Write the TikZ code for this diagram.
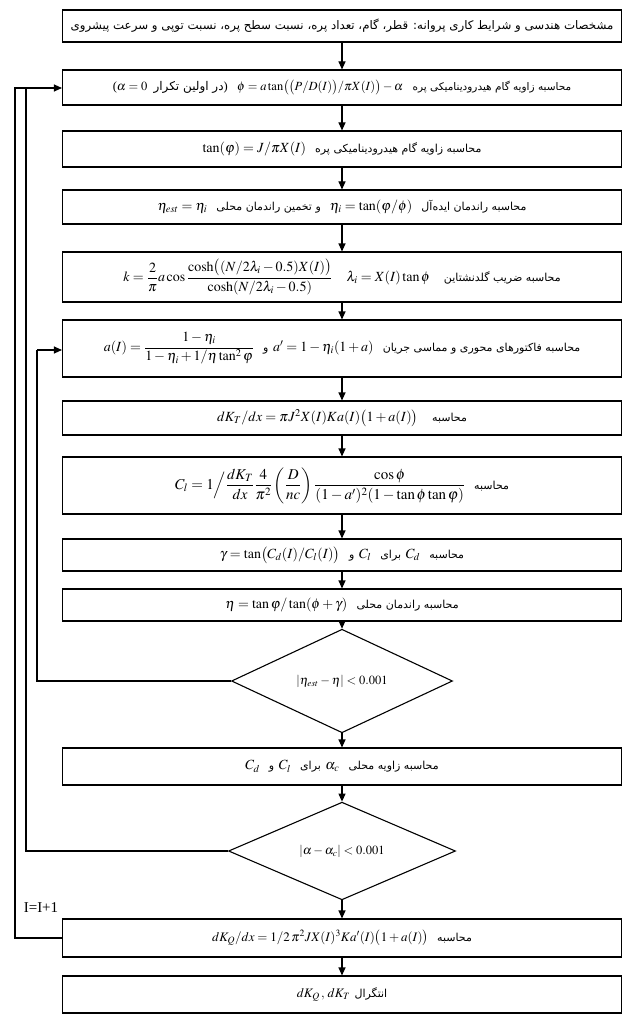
\documentclass[tikz,border=0pt]{standalone}
\usepackage{amsmath}
\usepackage{mathptmx}
\usepackage[no-math]{fontspec}
\usetikzlibrary{arrows.meta,shapes.geometric}
\TeXXeTstate=1
\newfontfamily\fafont[Script=Arabic]{DejaVu Sans}
\newfontfamily\tnrfont{Liberation Serif}
\newcommand{\fatext}[2][11]{{\fafont\fontsize{#1}{#1}\selectfont\beginR #2\endR}}
\tikzset{
  box/.style={draw, line width=1.1pt, minimum width=559pt, inner sep=0pt, align=center,
    font=\fontsize{14}{16}\selectfont},
  decision/.style={draw, diamond, line width=1.1pt, inner sep=0pt,
    font=\fontsize{12.5}{14}\selectfont},
  flow/.style={line width=1.1pt, -{Triangle[length=8pt,width=7pt]}},
  loopline/.style={line width=1.1pt},
}
\begin{document}
\begin{tikzpicture}[x=1pt,y=-1pt]
\useasboundingbox (0,0) rectangle (627,1016);
\node[box, minimum height=32pt] (b1) at (342,26) {\fatext[11.8]{مشخصات هندسی و شرایط کاری پروانه: قطر، گام، تعداد پره، نسبت سطح پره، نسبت توپی و سرعت پیشروی}};
\node[box, minimum height=35pt, font=\fontsize{12.5}{14}\selectfont] (b2) at (342,87.5) {\tnrfont($\alpha=0$\ \ \fatext[12]{در اولین تکرار}\tnrfont)\ \ \ $\phi=a\tan\bigl(\bigl(P/D(I)\bigr)/\pi X(I)\bigr)-\alpha$\ \ \ \fatext[10.5]{محاسبه زاویه گام هیدرودینامیکی پره}};
\node[box, minimum height=36pt] (b3) at (342,149) {$\tan(\varphi)=J/\pi X(I)$\ \ \fatext{محاسبه زاویه گام هیدرودینامیکی پره}};
\node[box, minimum height=34pt] (b4) at (342,207) {$\eta_{est}=\eta_i$\ \ \fatext{و تخمین راندمان محلی}\ \ $\eta_i=\tan(\varphi/\phi)$\ \ \fatext{محاسبه راندمان ایده‌آل}};
\node[box, minimum height=50pt] (b5) at (342,277) {$k=\dfrac{2}{\pi}a\cos\dfrac{\cosh\bigl((N/2\lambda_i-0.5)X(I)\bigr)}{\cosh(N/2\lambda_i-0.5)}$\quad $\lambda_i=X(I)\tan\phi$\quad \fatext{محاسبه ضریب گلدنشتاین}};
\node[box, minimum height=57pt] (b6) at (342,348.5) {$a(I)=\dfrac{1-\eta_i}{1-\eta_i+1/\eta\tan^2\varphi}$\ \ \fatext{و}\ $a'=1-\eta_i(1+a)$\ \ \fatext{محاسبه فاکتورهای محوری و مماسی جریان}};
\node[box, minimum height=34pt] (b7) at (342,418) {$dK_T/dx=\pi J^2X(I)Ka(I)\bigl(1+a(I)\bigr)$\quad\fatext{محاسبه}};
\node[box, minimum height=57pt, font=\fontsize{15}{17}\selectfont] (b8) at (342,485.5) {$C_l=1\Big/\dfrac{dK_T}{dx}\dfrac{4}{\pi^2}\left(\dfrac{D}{nc}\right)\dfrac{\cos\phi}{(1-a')^2(1-\tan\phi\tan\varphi)}$\ \ \fatext{محاسبه}};
\node[box, minimum height=32pt] (b9) at (342,555) {$\gamma=\tan\bigl(C_d(I)/C_l(I)\bigr)$\ \ \fatext{و}\ $C_l$\ \ \fatext{برای}\ $C_d$\ \ \fatext{محاسبه}};
\node[box, minimum height=32pt] (b10) at (342,605) {$\eta=\tan\varphi/\tan(\phi+\gamma)$\ \ \fatext{محاسبه راندمان محلی}};
\node[decision, minimum width=221pt, minimum height=86pt] (d1) at (342,681) {$\left|\eta_{est}-\eta\right|<0.001$};
\node[box, minimum height=37pt] (b11) at (342,766.5) {$C_d$\ \ \fatext{و}\ $C_l$\ \ \fatext{برای}\ $\alpha_c$\ \ \fatext{محاسبه زاویه محلی}};
\node[decision, minimum width=227pt, minimum height=96pt] (d2) at (342,851) {$\left|\alpha-\alpha_c\right|<0.001$};
\node[box, minimum height=38pt, font=\fontsize{13}{15}\selectfont] (b12) at (342,938) {$dK_Q/dx=1/2\,\pi^2JX(I)^3Ka'(I)\bigl(1+a(I)\bigr)$\ \ \fatext{محاسبه}};
\node[box, minimum height=37pt, font=\fontsize{13}{15}\selectfont] (b13) at (342,994.5) {$dK_Q\,,\,dK_T$\ \fatext{انتگرال}};
\node[font=\tnrfont\fontsize{15}{15}\selectfont, inner sep=0pt] (inc) at (41,908) {I=I+1};
\foreach \a/\b in {b1/b2,b2/b3,b3/b4,b4/b5,b5/b6,b6/b7,b7/b8,b8/b9,b9/b10,b10/d1,d1/b11,b11/d2,d2/b12,b12/b13}
  \draw[flow] (\a) -- (\b);
\coordinate (i1) at (37,681);
\coordinate (i2) at (37,350);
\coordinate (m1) at (26,851);
\coordinate (m2) at (26,88);
\coordinate (o1) at (15,938);
\coordinate (o2) at (15,88);
\draw[loopline] (d1.west) -- (i1) -- (i2);
\draw[flow] (i2) -- (i2 -| b6.west);
\draw[loopline] (d2.west) -- (m1) -- (m2);
\draw[loopline] (b12.west) -- (o1) -- (o2) -- (m2);
\draw[flow] (m2) -- (m2 -| b2.west);
\end{tikzpicture}
\end{document}
